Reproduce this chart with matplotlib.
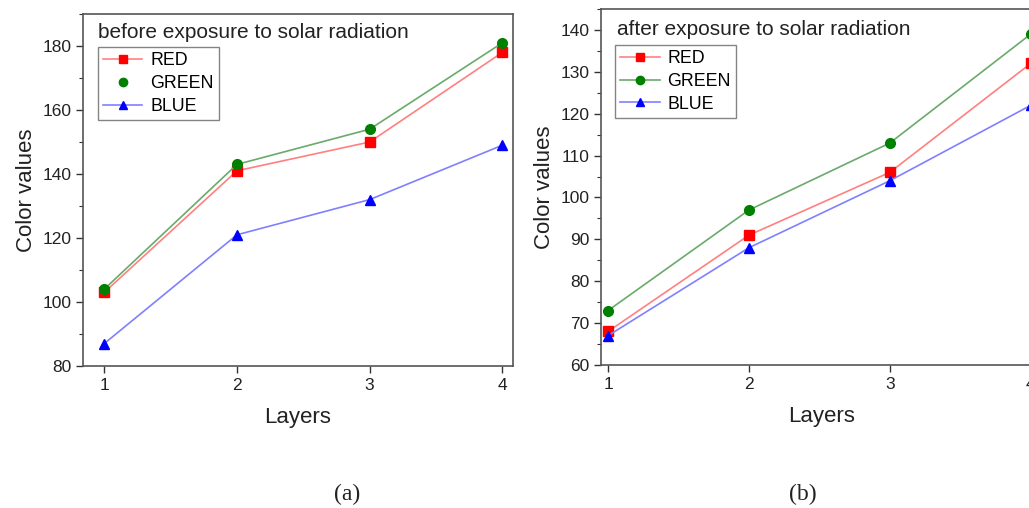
import matplotlib
matplotlib.use("Agg")
import matplotlib.pyplot as plt
from matplotlib.ticker import MultipleLocator
from matplotlib.lines import Line2D

plt.rcParams['font.family'] = ['Liberation Sans', 'DejaVu Sans']

layers = [1, 2, 3, 4]
before_red = [103, 141, 150, 178]
before_green = [104, 143, 154, 181]
before_blue = [87, 121, 132, 149]
after_red = [68, 91, 106, 132]
after_green = [73, 97, 113, 139]
after_blue = [67, 88, 104, 122]
series_labels = ["RED", "GREEN", "BLUE"]
titles = ["before exposure to solar radiation", "after exposure to solar radiation"]
captions = ["(a)", "(b)"]

W, H = 1029, 508
fig = plt.figure(figsize=(W / 100, H / 100), dpi=100)

def px_axes(x0, y0, x1, y1):
    return fig.add_axes([x0 / W, 1 - y1 / H, (x1 - x0) / W, (y1 - y0) / H])

ax1 = px_axes(83, 14, 513, 366)
ax2 = px_axes(601, 9, 1042, 365)

line_colors = ["#ff8080", "#6aaa6a", "#8080ff"]
mark_colors = ["#ff0000", "#008000", "#0000ff"]
markers = ["s", "o", "^"]

def draw(ax, data, xlim, ylim, major, minor, title, title_pos, leg_pos, green_line=True):
    handles = []
    for vals, lc, mc, m, lab in zip(data, line_colors, mark_colors, markers, series_labels):
        ax.plot(layers, vals, color=lc, lw=1.2, marker=m, markersize=7,
                markerfacecolor=mc, markeredgecolor=mc)
        show_line = green_line or lab != "GREEN"
        handles.append(Line2D([], [], color=lc, lw=1.2 if show_line else 0, marker=m,
                              markersize=6, markerfacecolor=mc, markeredgecolor=mc, label=lab))
    ax.set_xlim(*xlim)
    ax.set_ylim(*ylim)
    ax.set_xticks(layers)
    ax.yaxis.set_major_locator(MultipleLocator(major))
    ax.yaxis.set_minor_locator(MultipleLocator(minor))
    ax.tick_params(axis='both', which='major', direction='out', length=5, width=1.0,
                   labelsize=12.5, colors='#333333', labelcolor='#222222')
    ax.tick_params(axis='y', which='minor', direction='out', length=3, width=0.8, colors='#333333')
    ax.tick_params(top=False, right=False)
    for s in ax.spines.values():
        s.set_color('#555555')
        s.set_linewidth(1.2)
    ax.set_xlabel("Layers", fontsize=16, color='#222222', labelpad=10)
    ax.set_ylabel("Color values", fontsize=16, color='#222222', labelpad=4)
    ax.text(title_pos[0], title_pos[1], title, transform=ax.transAxes, fontsize=15,
            va='top', ha='left', color='#222222')
    leg = ax.legend(handles=handles, loc='upper left', bbox_to_anchor=leg_pos, fontsize=12.8,
                    frameon=True, fancybox=False, edgecolor='#666666', handlelength=2.2,
                    borderpad=0.3, labelspacing=0.32, handletextpad=0.45, borderaxespad=0)
    leg.get_frame().set_linewidth(1.0)
    return leg

draw(ax1, [before_red, before_green, before_blue], (0.84, 4.08), (80, 190), 20, 10,
     titles[0], (0.035, 0.975), (0.035, 0.906), green_line=False)
draw(ax2, [after_red, after_green, after_blue], (0.95, 4.08), (60, 145), 10, 5,
     titles[1], (0.036, 0.968), (0.032, 0.899))

fig.text(347 / W, 1 - 494 / H, captions[0], ha='center', va='center', fontsize=17,
         family=['Liberation Serif', 'DejaVu Serif'], color='#222222')
fig.text(803 / W, 1 - 494 / H, captions[1], ha='center', va='center', fontsize=17,
         family=['Liberation Serif', 'DejaVu Serif'], color='#222222')

fig.savefig("out.png", dpi=100, facecolor='white')
